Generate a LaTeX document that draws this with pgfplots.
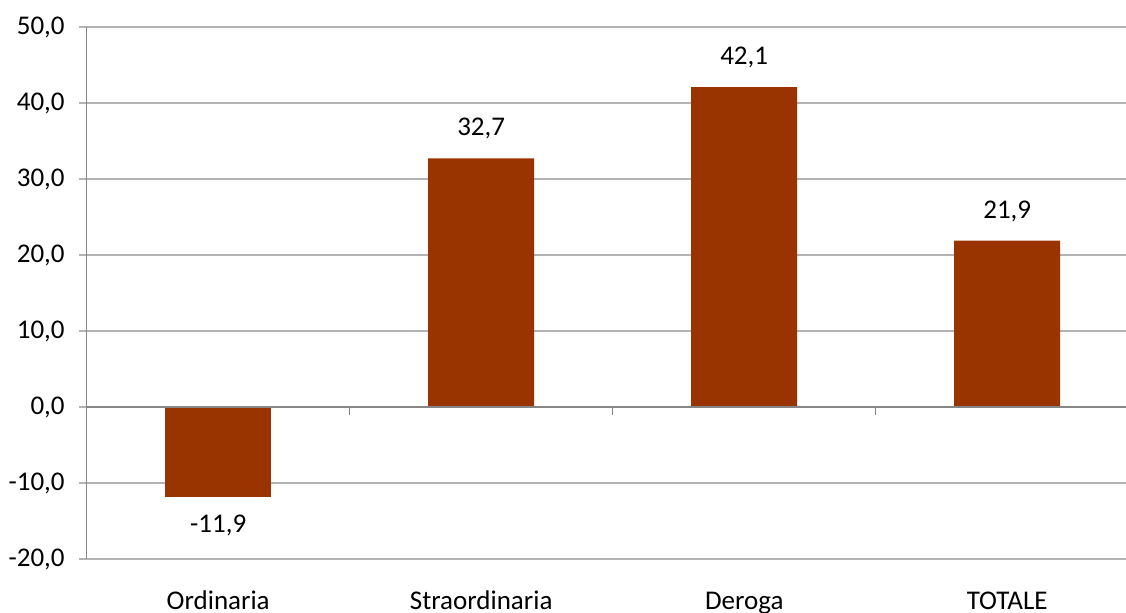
\documentclass[border=0pt]{standalone}
\usepackage{pgfplots}
\pgfplotsset{compat=1.18}
\usepackage{fontspec}
\setmainfont{Carlito}
\definecolor{barc}{RGB}{153,51,0}
\definecolor{gridc}{RGB}{179,179,179}
\definecolor{axc}{RGB}{134,134,134}
\newcommand{\lblfont}{\fontsize{13.5}{16}\selectfont}
\begin{document}
\begin{tikzpicture}
\begin{axis}[
  x=131.5pt, y=3.8pt,
  xmin=-0.5, xmax=3.5,
  ymin=-20, ymax=50,
  ytick={-20,-10,0,10,20,30,40,50},
  xtick={0,1,2,3},
  xticklabels={Ordinaria,Straordinaria,Deroga,TOTALE},
  axis x line*=bottom,
  axis y line*=left,
  x axis line style={draw=gridc, line width=0.6pt},
  y axis line style={draw=axc, line width=0.6pt},
  ymajorgrids,
  grid style={draw=gridc, line width=0.6pt},
  tick align=outside,
  major tick length=4pt,
  ytick style={draw=gridc, line width=0.6pt},
  xtick style={draw=none},
  yticklabel style={font=\lblfont, xshift=-3.5pt},
  xticklabel style={font=\lblfont, anchor=base, yshift=-21.5pt},
  /pgf/number format/.cd, fixed, fixed zerofill, precision=1, use comma, assume math mode=true,
  /pgfplots/.cd,
  ybar, bar width=53pt, bar shift=0pt,
  clip=false,
  nodes near coords,
  nodes near coords style={font=\lblfont},
]
\addplot[fill=barc, draw=none, nodes near coords style={anchor=south, yshift=6pt}] coordinates {(1,32.7) (2,42.1) (3,21.9)};
\addplot[fill=barc, draw=none, nodes near coords style={anchor=north, yshift=-5pt}] coordinates {(0,-11.9)};
\draw[axc, line width=0.6pt] (axis cs:-0.5,0) -- (axis cs:3.5,0);
\draw[axc, line width=0.6pt] (axis cs:0.5,0) -- ([yshift=-4pt]axis cs:0.5,0);
\draw[axc, line width=0.6pt] (axis cs:1.5,0) -- ([yshift=-4pt]axis cs:1.5,0);
\draw[axc, line width=0.6pt] (axis cs:2.5,0) -- ([yshift=-4pt]axis cs:2.5,0);
\end{axis}
\pgfresetboundingbox
\useasboundingbox (-43.35pt,-27pt) rectangle (519.65pt,279.5pt);
\end{tikzpicture}
\end{document}
